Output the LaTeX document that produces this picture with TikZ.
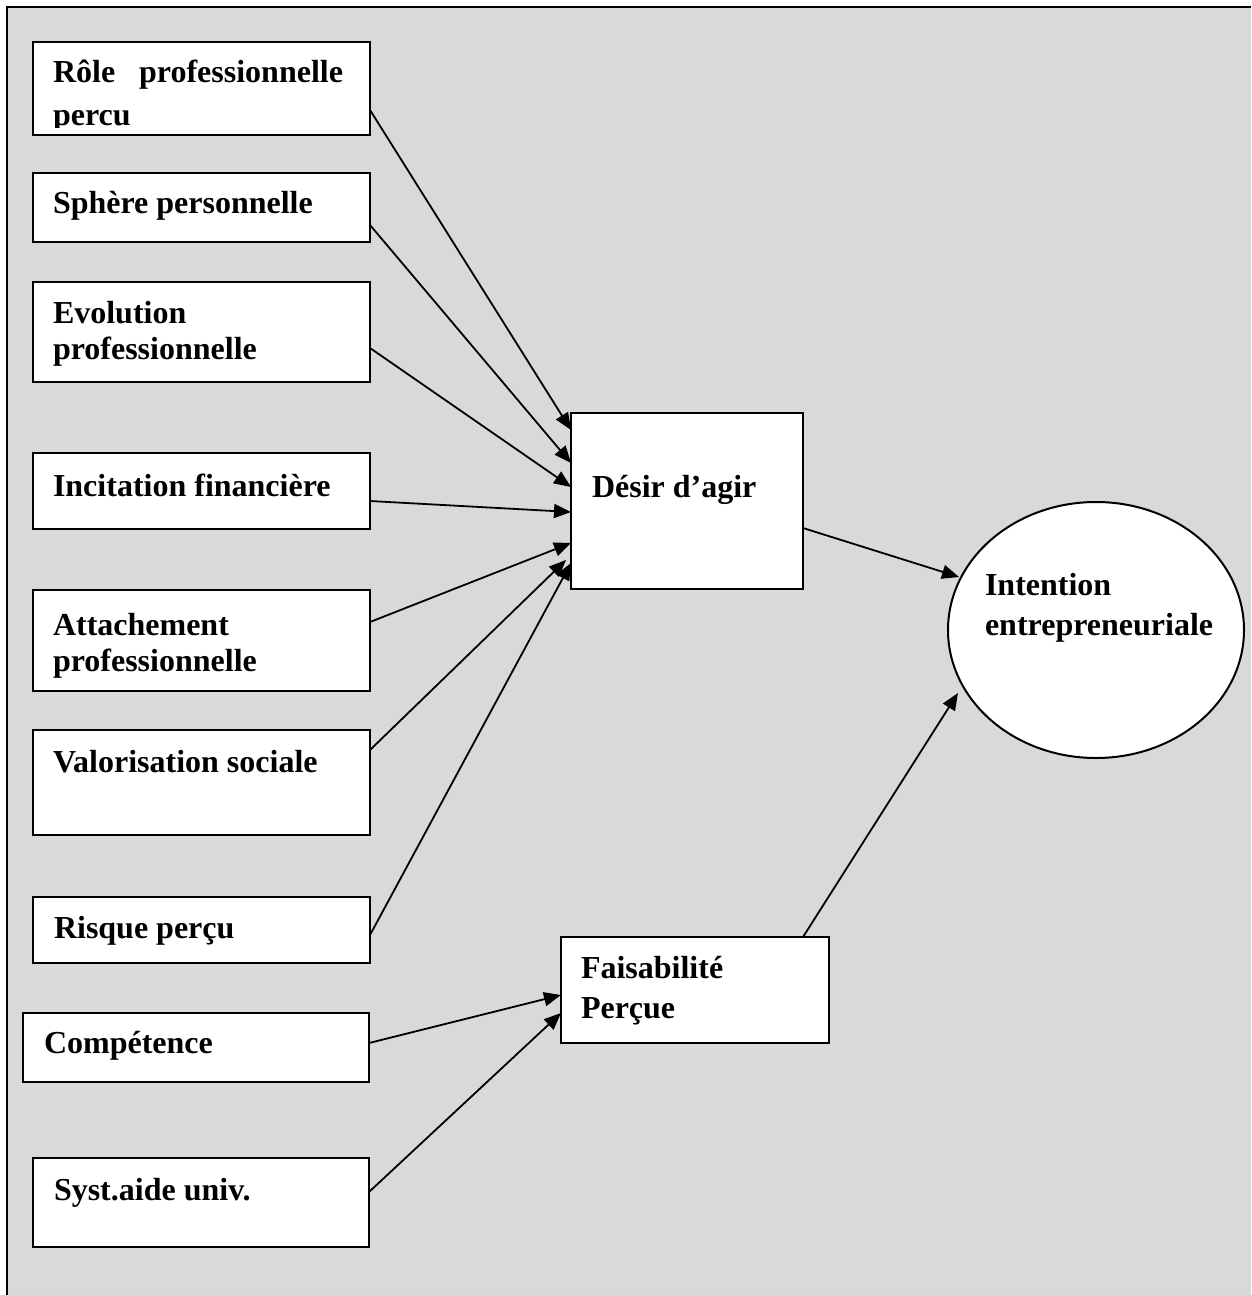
\documentclass[tikz,border=0pt]{standalone}
\usepackage{fontspec}
\setmainfont{Liberation Serif}
\usetikzlibrary{arrows.meta,calc,shapes.geometric}
\definecolor{bggray}{RGB}{217,217,217}
\begin{document}
\begin{tikzpicture}[x=1pt,y=-1pt,
  box/.style={draw=black,line width=2pt,fill=white,anchor=north west,inner sep=0pt,outer sep=0pt},
  txt/.style={anchor=base west,inner sep=0pt,outer sep=0pt,font=\fontsize{32}{36}\selectfont\bfseries},
  arr/.style={line width=1.8pt,-{Triangle[length=17pt,width=14pt]}}]
\useasboundingbox (0,0) rectangle (1251,1295);
\fill[white] (0,0) rectangle (1251,1295);
\fill[bggray] (7,7) rectangle (1251,1295);
\draw[line width=2pt] (7,1295) -- (7,7) -- (1251,7);

% left boxes
\node[box,minimum width=337pt,minimum height=93pt] (role) at (33,42) {};
\node[box,minimum width=337pt,minimum height=69pt] (sph) at (33,173) {};
\node[box,minimum width=337pt,minimum height=100pt] (evo) at (33,282) {};
\node[box,minimum width=337pt,minimum height=76pt] (inc) at (33,453) {};
\node[box,minimum width=337pt,minimum height=101pt] (att) at (33,590) {};
\node[box,minimum width=337pt,minimum height=105pt] (val) at (33,730) {};
\node[box,minimum width=337pt,minimum height=66pt] (ris) at (33,897) {};
\node[box,minimum width=346pt,minimum height=69pt] (comp) at (23,1013) {};
\node[box,minimum width=336pt,minimum height=89pt] (syst) at (33,1158) {};
% central boxes
\node[box,minimum width=232pt,minimum height=176pt] (des) at (571,413) {};
\node[box,minimum width=268pt,minimum height=106pt] (fai) at (561,937) {};
\node[draw=black,line width=2pt,fill=white,ellipse,minimum width=296pt,minimum height=256pt,inner sep=0pt] (int) at (1096,630) {};

% texts
\node[txt] (troleA) at (53,83) {\makebox[290pt][l]{Rôle\hfill professionnelle}};
\begin{scope}
\clip (34,43) rectangle (369,128);
\node[txt] (troleB) at (53,125) {percu};
\end{scope}
\node[txt] (tsph) at (53,213) {Sphère personnelle};
\node[txt] (tevoA) at (53,323) {Evolution};
\node[txt] (tevoB) at (53,359) {professionnelle};
\node[txt] (tinc) at (53,496) {Incitation financière};
\node[txt] (tattA) at (53,635) {Attachement};
\node[txt] (tattB) at (53,671) {professionnelle};
\node[txt] (tval) at (53,772) {Valorisation sociale};
\node[txt] (tris) at (54,938) {Risque perçu};
\node[txt] (tcomp) at (44,1053) {Compétence};
\node[txt] (tsyst) at (54,1200) {Syst.aide univ.};
\node[txt] (tdes) at (592,497) {Désir d’agir};
\node[txt] (tfaiA) at (581,978) {Faisabilité};
\node[txt] (tfaiB) at (581,1018) {Perçue};
\node[txt] (tintA) at (985,595) {Intention};
\node[txt] (tintB) at (985,635) {entrepreneuriale};

% connectors to Désir d'agir
\draw[arr] ($(role.north east)+(0,68)$) -- ($(des.north west)+(0,17)$);
\draw[arr] ($(sph.north east)+(0,52)$) -- ($(des.north west)+(0,50)$);
\draw[arr] ($(evo.north east)+(0,66)$) -- ($(des.north west)+(0,74)$);
\draw[arr] ($(inc.north east)+(0,48)$) -- ($(des.north west)+(0,99)$);
\draw[arr] ($(att.north east)+(0,32)$) -- ($(des.north west)+(0,130)$);
\draw[arr] ($(val.north east)+(0,20)$) -- ($(des.north west)+(-5,147)$);
\draw[arr] ($(ris.north east)+(0,38)$) -- ($(des.north west)+(0,150)$);
% to Faisabilité
\draw[arr] ($(comp.north east)+(0,30)$) -- ($(fai.north west)+(0,58)$);
\draw[arr] ($(syst.north east)+(0,34)$) -- ($(fai.north west)+(0,76)$);
% to Intention
\draw[arr] ($(des.north east)+(0,115)$) -- ($(int.center)+(-137,-53)$);
\draw[arr] ($(fai.north west)+(242,0)$) -- ($(int.center)+(-138,63)$);
\end{tikzpicture}
\end{document}
